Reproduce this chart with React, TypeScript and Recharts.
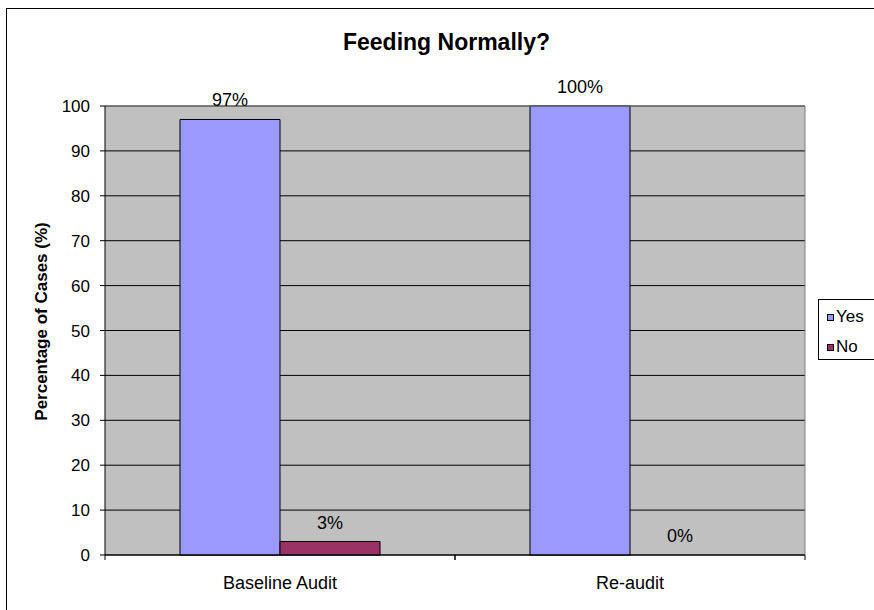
import React from 'react';
import { BarChart, Bar, Cell, XAxis, YAxis, CartesianGrid, LabelList, ReferenceLine } from 'recharts';

const categories = ['Baseline Audit', 'Re-audit'];
const yesValues = [97, 100];
const noValues = [3, 0];
const yTicks = [0, 10, 20, 30, 40, 50, 60, 70, 80, 90, 100];

const FONT = '"Liberation Sans", Arial, sans-serif';
const W = 874;
const H = 610;
const PLOT_LEFT = 105;
const PLOT_RIGHT = 69;
const HALF_BAND = (W - PLOT_LEFT - PLOT_RIGHT) / categories.length / 2;

const data = categories.map((name, i) => ({ name, yes: yesValues[i], no: noValues[i] }));

const XTick = (props: any) => {
  const { x, y, payload } = props;
  return (
    <g>
      <line x1={x - HALF_BAND} y1={y} x2={x - HALF_BAND} y2={y + 5} stroke="#000" />
      <line x1={x + HALF_BAND} y1={y} x2={x + HALF_BAND} y2={y + 5} stroke="#000" />
      <text x={x} y={y + 34} textAnchor="middle" fontSize={18} fontFamily={FONT} fill="#000">
        {payload.value}
      </text>
    </g>
  );
};

// value above the bar; zero bars get a 1px invisible rect so the label still shows
const TopLabel = (props: any) => {
  const { x, y, width, height, value } = props;
  if (value === undefined || value === null) return null;
  const base = value === 0 ? y + height : y;
  return (
    <text x={x + width / 2} y={base - 13} textAnchor="middle" fontSize={18} fontFamily={FONT} fill="#000">
      {`${value}%`}
    </text>
  );
};

const LegendBox = () => (
  <div
    style={{
      position: 'absolute',
      left: 818,
      top: 299,
      width: 80,
      height: 61,
      border: '1px solid #000',
      background: '#fff',
      fontFamily: FONT,
      fontSize: 17,
      boxSizing: 'border-box',
      paddingLeft: 8,
      paddingTop: 2,
    }}
  >
    {[
      { label: 'Yes', color: '#9999FF' },
      { label: 'No', color: '#993366' },
    ].map((it) => (
      <div key={it.label} style={{ display: 'flex', alignItems: 'center', height: 30 }}>
        <span style={{ width: 5, height: 5, background: it.color, border: '1px solid #000', marginRight: 2 }} />
        <span>{it.label}</span>
      </div>
    ))}
  </div>
);

export default function App() {
  return (
    <div style={{ position: 'fixed', left: 0, top: 0, width: W, height: H, background: '#fff', overflow: 'hidden' }}>
      <div
        style={{
          position: 'absolute',
          left: 6,
          top: 8,
          width: 1200,
          height: 1000,
          borderTop: '1px solid #000',
          borderLeft: '1px solid #000',
        }}
      />
      <div
        style={{
          position: 'absolute',
          left: 0,
          width: 893,
          top: 29,
          textAlign: 'center',
          fontFamily: FONT,
          fontWeight: 'bold',
          fontSize: 23,
        }}
      >
        Feeding Normally?
      </div>
      <div style={{ position: 'absolute', left: 0, top: 0 }}>
        <BarChart
          width={W}
          height={H}
          data={data}
          margin={{ top: 106, right: PLOT_RIGHT, bottom: 0, left: 0 }}
          barCategoryGap="21.43%"
          barGap={0}
        >
          <CartesianGrid vertical={false} stroke="#000" fill="#C0C0C0" fillOpacity={1} />
          <CartesianGrid
            horizontal={false}
            stroke="#808080"
            verticalCoordinatesGenerator={({ offset }: any) => [offset.left + offset.width]}
          />
          <ReferenceLine y={100} stroke="#808080" />
          <XAxis
            dataKey="name"
            height={55}
            axisLine={{ stroke: '#000' }}
            tickLine={false}
            tickSize={0}
            tickMargin={0}
            tick={<XTick />}
            interval={0}
          />
          <YAxis
            width={PLOT_LEFT}
            domain={[0, 100]}
            ticks={yTicks}
            interval={0}
            tickSize={5}
            tickMargin={10}
            axisLine={{ stroke: '#000' }}
            tickLine={{ stroke: '#000' }}
            tick={{ fontSize: 17, fontFamily: FONT, fill: '#000' }}
            label={{
              value: 'Percentage of Cases (%)',
              angle: -90,
              position: 'center',
              dx: -12,
              dy: -9,
              style: { fontSize: 17, fontWeight: 'bold', fontFamily: FONT, fill: '#000' },
            }}
          />
          <Bar dataKey="yes" fill="#9999FF" stroke="#000" strokeWidth={1} isAnimationActive={false}>
            <LabelList dataKey="yes" content={<TopLabel />} />
          </Bar>
          <Bar dataKey="no" fill="#993366" stroke="#000" strokeWidth={1} minPointSize={1} isAnimationActive={false}>
            {noValues.map((v, i) => (
              <Cell key={`no-${i}`} fill={v === 0 ? 'none' : '#993366'} stroke={v === 0 ? 'none' : '#000'} />
            ))}
            <LabelList dataKey="no" content={<TopLabel />} />
          </Bar>
        </BarChart>
      </div>
      <LegendBox />
    </div>
  );
}
